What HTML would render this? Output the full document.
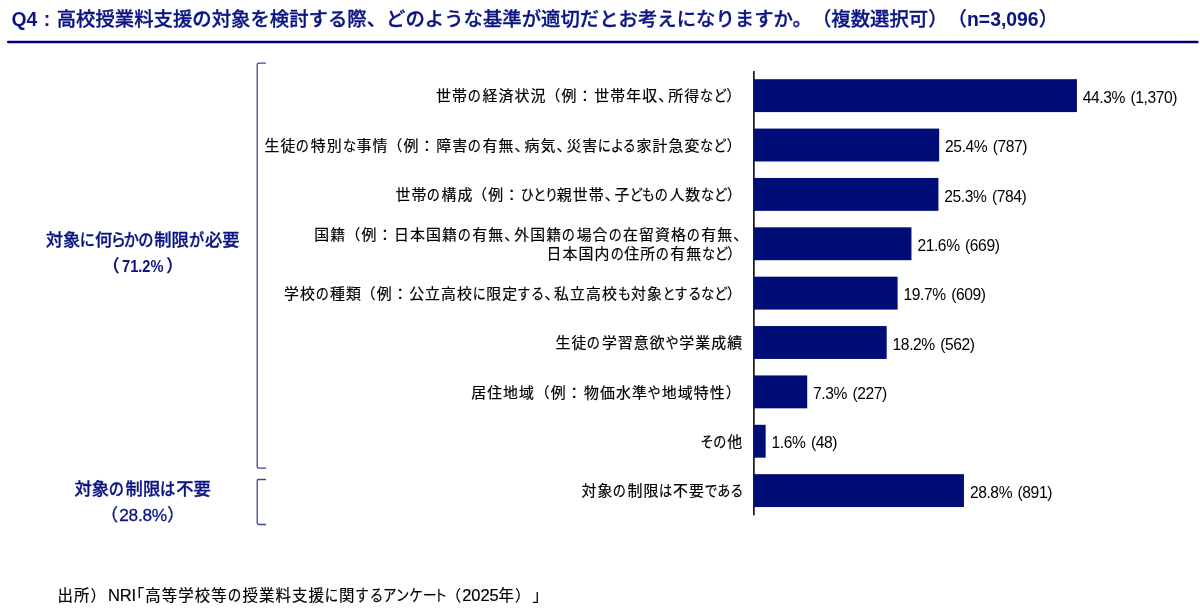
<!DOCTYPE html>
<html lang="ja"><head><meta charset="utf-8"><title>Q4</title>
<style>
html,body{margin:0;padding:0;background:#fff}
body{text-spacing-trim:space-all;width:1200px;height:616px;position:relative;overflow:hidden;font-family:"Liberation Sans","Noto Sans CJK JP",sans-serif;color:#1a1a1a}
#cv{position:absolute;left:0;top:0;width:1200px;height:616px;will-change:transform}
.abs{position:absolute;white-space:nowrap}
.title{left:11.5px;top:5px;font-size:19.39px;line-height:28px;font-weight:500;-webkit-text-stroke:0.3px currentColor;color:#0a1582}
.title .q{display:inline-block;width:19.39px;text-align:center;font-weight:bold}
.title b,.title .q{font-weight:bold;-webkit-text-stroke:0}
.ln{--d:0px;display:inline-block;letter-spacing:var(--b)}
.k{display:inline-block;font-feature-settings:"palt";transform:scaleX(0.88);transform-origin:0 50%;letter-spacing:calc(var(--b) + var(--d))}
.c{letter-spacing:calc(-0.4em + var(--b) + var(--d))}
.po{margin-left:calc(-0.06em + var(--d))}
.ko{margin-left:calc(-0.47em + var(--d))}
.co{letter-spacing:calc(0.05em + var(--b) + var(--d))}
.pc{letter-spacing:calc(0.06em + var(--b) + var(--d))}
.l{font-size:16.5px;letter-spacing:-0.1px}
.k i{font-style:normal}
.p6{letter-spacing:calc(0.06em + var(--b) + var(--d))}
.p9{letter-spacing:calc(0.09em + var(--b) + var(--d))}
.m7{letter-spacing:calc(-0.07em + var(--b) + var(--d))}
.m12{letter-spacing:calc(-0.12em + var(--b) + var(--d))}
.lab{--b:1.1px;right:456.8px;font-size:14.9px;line-height:19.9px;text-align:right;color:#000;font-weight:400;-webkit-text-stroke:0.2px #000}
.val{font-size:15.6px;line-height:20px;letter-spacing:-0.4px;word-spacing:1.5px;color:#000}
.grp{--b:0px;width:260px;left:12.75px;text-align:center;font-weight:500;-webkit-text-stroke:0.3px currentColor;font-size:17.33px;line-height:26px;color:#0a1582}
.grp .n{font-size:17.3px;font-weight:bold;-webkit-text-stroke:0}
.grp .n .d{display:inline-block;letter-spacing:var(--ls);transform:scaleX(var(--s));transform-origin:0 50%;margin-right:var(--dm)}
.foot{--b:1.1px;left:57.6px;top:584px;font-size:15.4px;line-height:22px;color:#000;font-weight:400;-webkit-text-stroke:0.2px #000}
</style></head><body><div id="cv">

<div class="abs title"><b>Q4</b><span class="q">:</span>高校授業料支援の対象を検討する際、どのような基準が適切だとお考えになりますか。（複数選択可）（<b>n=3,096</b>）</div>
<svg class="abs" style="left:0;top:0" width="300" height="616" viewBox="0 0 300 616" fill="none" stroke="#3c4699" stroke-width="1.3" stroke-linecap="round" stroke-linejoin="round"><path d="M265.5 63.1H258.6Q257.2 63.1 257.2 64.5V466.8Q257.2 468.2 258.6 468.2H265.5"/><path d="M265.5 479.5H258.6Q257.2 479.5 257.2 480.9V523.1Q257.2 524.5 258.6 524.5H265.5"/></svg>
<div class="abs grp" style="top:227px"><span class="ln" style="--d:-0.217px">対象<span class="k" style="margin-right:-1.98px">に</span>何<span class="k" style="margin-right:-5.72px"><i class="m7">ら</i>か<i class="p6">の</i></span>制限<span class="k" style="margin-right:-2.20px"><i class="p9">が</i></span>必要</span><br><span class="n" style="--ls:0px;--s:0.847;--dm:-7.5px"><span style="margin:0 1.9px 0 0.4px">（</span><span class="d">71.2%</span><span style="margin-left:2.7px">）</span></span></div>
<div class="abs grp" style="top:476.3px"><span class="ln" style="--d:0.870px">対象<span class="k" style="margin-right:-2.23px"><i class="p6">の</i></span>制限<span class="k" style="margin-right:-2.18px">は</span>不要</span><br><span class="n" style="font-weight:normal;-webkit-text-stroke:0.3px #0a1582;--ls:-0.25px;--s:1;--dm:0px"><span style="margin:0 1.2px 0 -0.4px">（</span><span class="d">28.8%</span><span style="margin-left:0.2px">）</span></span></div>
<svg class="abs" style="left:0;top:0" width="1200" height="616" viewBox="0 0 1200 616"><line x1="8.25" y1="42" x2="1197.35" y2="42" stroke="#00006c" stroke-width="2.5" stroke-linecap="round"/><rect x="753" y="71" width="1.75" height="444.3" fill="#1e1e1e"/><g fill="#000d76"><rect x="754" y="79.20" width="322.95" height="32.90"/><rect x="754" y="128.57" width="185.17" height="32.90"/><rect x="754" y="177.94" width="184.44" height="32.90"/><rect x="754" y="227.31" width="157.46" height="32.90"/><rect x="754" y="276.68" width="143.61" height="32.90"/><rect x="754" y="326.05" width="132.68" height="32.90"/><rect x="754" y="375.42" width="53.22" height="32.90"/><rect x="754" y="424.79" width="11.66" height="32.90"/><rect x="754" y="474.16" width="209.95" height="32.90"/></g></svg>
<div class="abs lab" style="top:87.40px"><span class="ln" style="--d:-0.005px">世帯<span class="k" style="margin-right:-1.96px"><i class="p6">の</i></span>経済状況<span class="po">（</span>例<span class="co">：</span>世帯年収<span class="c">、</span>所得<span class="k" style="margin-right:-3.55px">な<i class="m7">ど</i></span><span class="pc">）</span></span></div>
<div class="abs val" style="left:1082.8px;top:87.85px">44.3% (1,370)</div>
<div class="abs lab" style="top:136.77px"><span class="ln" style="--d:-0.078px">生徒<span class="k" style="margin-right:-1.95px"><i class="p6">の</i></span>特別<span class="k" style="margin-right:-1.88px">な</span>事情<span class="po">（</span>例<span class="co">：</span>障害<span class="k" style="margin-right:-1.95px"><i class="p6">の</i></span>有無<span class="c">、</span>病気<span class="c">、</span>災害<span class="k" style="margin-right:-5.20px">による</span>家計急変<span class="k" style="margin-right:-3.53px">な<i class="m7">ど</i></span><span class="pc">）</span></span></div>
<div class="abs val" style="left:945.1px;top:137.22px">25.4% (787)</div>
<div class="abs lab" style="top:186.14px"><span class="ln" style="--d:-0.395px">世帯<span class="k" style="margin-right:-1.92px"><i class="p6">の</i></span>構成<span class="po">（</span>例<span class="co">：</span><span class="k" style="margin-right:-4.95px">ひとり</span>親世帯<span class="c">、</span>子<span class="k" style="margin-right:-5.31px"><i class="m7">ど</i>も<i class="p6">の</i></span>人数<span class="k" style="margin-right:-3.46px">な<i class="m7">ど</i></span><span class="pc">）</span></span></div>
<div class="abs val" style="left:944.3px;top:186.59px">25.3% (784)</div>
<div class="abs lab" style="top:225.56px"><span class="ln" style="--d:-0.079px">国籍<span class="po">（</span>例<span class="co">：</span>日本国籍<span class="k" style="margin-right:-1.95px"><i class="p6">の</i></span>有無<span class="c">、</span>外国籍<span class="k" style="margin-right:-1.95px"><i class="p6">の</i></span>場合<span class="k" style="margin-right:-1.95px"><i class="p6">の</i></span>在留資格<span class="k" style="margin-right:-1.95px"><i class="p6">の</i></span>有無<span class="c">、</span></span><br><span class="ln" style="--d:-0.681px">日本国内<span class="k" style="margin-right:-1.88px"><i class="p6">の</i></span>住所<span class="k" style="margin-right:-1.88px"><i class="p6">の</i></span>有無<span class="k" style="margin-right:-3.39px">な<i class="m7">ど</i></span><span class="pc">）</span></span></div>
<div class="abs val" style="left:917.4px;top:235.96px">21.6% (669)</div>
<div class="abs lab" style="top:284.88px"><span class="ln" style="--d:-0.383px">学校<span class="k" style="margin-right:-1.92px"><i class="p6">の</i></span>種類<span class="po">（</span>例<span class="co">：</span>公立高校<span class="k" style="margin-right:-1.81px">に</span>限定<span class="k" style="margin-right:-3.55px"><i class="p9">す</i>る</span><span class="c">、</span>私立高校<span class="k" style="margin-right:-1.78px">も</span>対象<span class="k" style="margin-right:-8.67px">と<i class="p9">す</i>るな<i class="m7">ど</i></span><span class="pc">）</span></span></div>
<div class="abs val" style="left:903.5px;top:285.33px">19.7% (609)</div>
<div class="abs lab" style="top:334.25px"><span class="ln" style="--d:0.107px">生徒<span class="k" style="margin-right:-1.98px"><i class="p6">の</i></span>学習意欲<span class="k" style="margin-right:-1.82px">や</span>学業成績</span></div>
<div class="abs val" style="left:892.6px;top:334.70px">18.2% (562)</div>
<div class="abs lab" style="top:383.62px"><span class="ln" style="--d:0.548px">居住地域<span class="po">（</span>例<span class="co">：</span>物価水準<span class="k" style="margin-right:-1.88px">や</span>地域特性<span class="pc">）</span></span></div>
<div class="abs val" style="left:813.1px;top:384.07px">7.3% (227)</div>
<div class="abs lab" style="top:432.99px"><span class="ln" style="--d:-0.373px"><span class="k" style="margin-right:-3.62px">そ<i class="p6">の</i></span>他</span></div>
<div class="abs val" style="left:771.6px;top:433.44px">1.6% (48)</div>
<div class="abs lab" style="top:482.36px"><span class="ln" style="--d:-0.458px">対象<span class="k" style="margin-right:-1.91px"><i class="p6">の</i></span>制限<span class="k" style="margin-right:-1.87px">は</span>不要<span class="k" style="margin-right:-5.20px">である</span></span></div>
<div class="abs val" style="left:969.9px;top:482.81px">28.8% (891)</div>
<div class="abs foot"><span class="ln" style="--d:-0.035px">出所<span class="pc">）</span><span class="l">NRI</span><span class="ko">「</span>高等学校等<span class="k" style="margin-right:-2.02px"><i class="p6">の</i></span>授業料支援<span class="k" style="margin-right:-1.91px">に</span>関<span class="k" style="margin-right:-12.42px"><i class="p9">す</i>るアンケ<i class="m12">ー</i>ト</span><span class="po">（</span><span class="l">2025</span>年<span class="pc">）</span><span class="pc">」</span></span></div>
</div></body></html>
